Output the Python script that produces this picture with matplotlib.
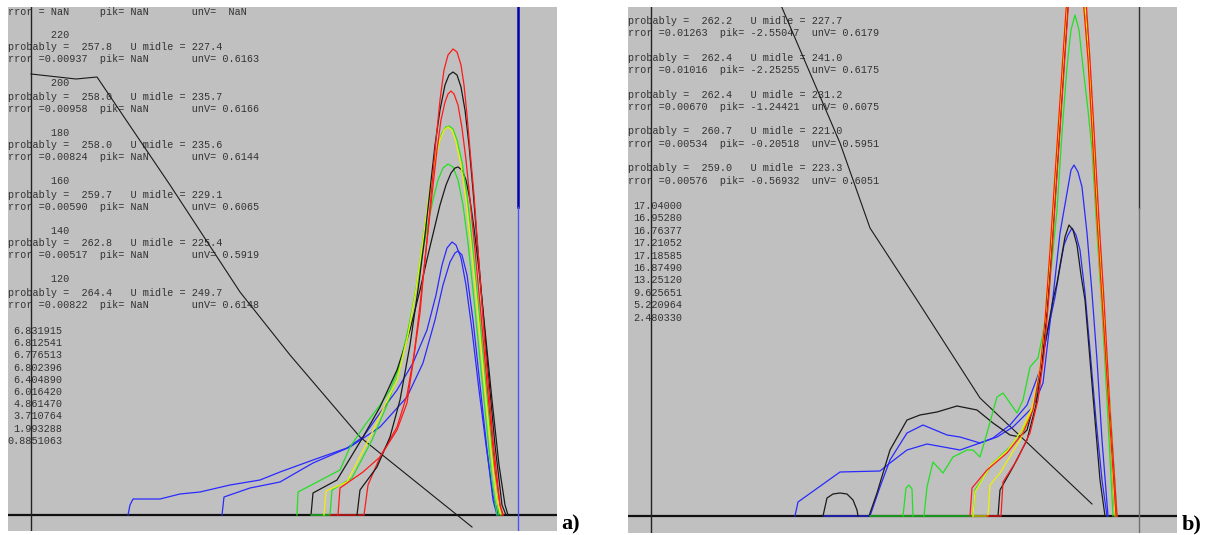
import matplotlib
matplotlib.use("Agg")
import matplotlib.pyplot as plt

# ---------------- panel a) data (x: channel from origin, y: counts) ----------------
a_headers = ["220", "200", "180", "160", "140", "120"]
a_prob = [257.8, 258.0, 258.0, 259.7, 262.8, 264.4]
a_umid = [227.4, 235.7, 235.6, 229.1, 225.4, 249.7]
a_err = ["0.00937", "0.00958", "0.00824", "0.00590", "0.00517", "0.00822"]
a_unv = ["0.6163", "0.6166", "0.6144", "0.6065", "0.5919", "0.6148"]
a_list = ["6.831915", "6.812541", "6.776513", "6.802396", "6.404890",
          "6.016420", "4.861470", "3.710764", "1.993288", "0.8851063"]

a_diag_x = [0, 45, 66, 139, 209, 259, 329, 441]
a_diag_y = [441, 436, 438, 330, 223, 160, 78, -12]

a_red1_x = [307, 309, 332, 349, 366, 376, 382, 389, 392, 397, 401, 405, 409, 413, 417, 422,
            426, 430, 433, 436, 439, 443, 447, 454, 462, 469, 472]
a_red1_y = [0, 27, 43, 58, 85, 112, 152, 202, 235, 285, 330, 375, 415, 445, 460, 466,
            463, 450, 430, 400, 365, 320, 265, 170, 75, 10, 0]
a_black1_x = [326, 329, 346, 359, 369, 379, 387, 394, 399, 404, 409, 414, 418, 422,
              426, 430, 434, 438, 442, 446, 451, 457, 464, 471, 475]
a_black1_y = [0, 25, 48, 78, 115, 170, 225, 280, 325, 370, 405, 430, 440, 443,
              440, 428, 405, 370, 325, 275, 215, 145, 70, 10, 0]
a_red2_x = [299, 333, 337, 349, 366, 376, 383, 389, 395, 401, 406, 410, 414, 417, 420,
            423, 427, 431, 435, 439, 444, 450, 457, 464, 469, 472]
a_red2_y = [0, 0, 30, 58, 88, 120, 160, 210, 265, 320, 365, 395, 413, 421, 424,
            421, 410, 387, 355, 315, 265, 200, 120, 45, 10, 0]
a_yellow_x = [293, 295, 316, 339, 354, 366, 377, 385, 392, 398, 404, 409, 413, 417,
              421, 425, 430, 435, 440, 446, 453, 460, 466, 470]
a_yellow_y = [0, 24, 33, 78, 110, 135, 180, 225, 275, 320, 355, 375, 385, 388,
              385, 373, 350, 315, 270, 210, 135, 65, 15, 0]
a_green2_x = [280, 299, 301, 321, 341, 356, 367, 378, 386, 393, 400, 406, 411, 415, 418,
              422, 426, 431, 436, 441, 447, 454, 461, 466, 468]
a_green2_y = [0, 0, 25, 37, 75, 110, 140, 187, 232, 283, 330, 365, 382, 388, 389,
              386, 375, 353, 320, 275, 215, 140, 65, 15, 0]
a_green1_x = [266, 267, 309, 319, 334, 349, 359, 369, 377, 384, 390, 396, 402, 407, 412,
              417, 422, 427, 432, 437, 442, 448, 455, 461, 466]
a_green1_y = [0, 23, 45, 68, 90, 110, 125, 150, 185, 220, 253, 287, 315, 335, 347,
              351, 348, 335, 310, 272, 225, 165, 95, 35, 0]
a_black2_x = [280, 282, 306, 332, 349, 366, 379, 389, 397, 403, 409, 415, 420, 424, 427,
              431, 435, 439, 443, 448, 454, 461, 468, 474, 477]
a_black2_y = [0, 22, 35, 78, 108, 145, 185, 225, 260, 285, 310, 330, 342, 347, 348,
              345, 335, 315, 287, 245, 185, 115, 50, 10, 0]
a_blue1_x = [97, 99, 102, 129, 149, 169, 199, 229, 249, 282, 316, 332, 349, 366, 382, 396,
             405, 411, 416, 421, 425, 430, 435, 441, 448, 455, 462, 467]
a_blue1_y = [0, 10, 16, 16, 21, 23, 30, 35, 43, 55, 67, 78, 102, 125, 152, 185,
             220, 250, 267, 273, 270, 257, 230, 185, 125, 70, 20, 0]
a_blue2_x = [191, 193, 219, 249, 282, 319, 349, 376, 392, 404, 412, 419, 424, 427,
             431, 436, 442, 449, 456, 462, 466]
a_blue2_y = [0, 18, 27, 33, 52, 68, 88, 118, 152, 195, 230, 253, 262, 264,
             260, 240, 195, 130, 65, 15, 0]

# ---------------- panel b) data ----------------
b_prob = [262.2, 262.4, 262.4, 260.7, 259.0]
b_umid = [227.7, 241.0, 231.2, 221.0, 223.3]
b_err = ["0.01263", "0.01016", "0.00670", "0.00534", "0.00576"]
b_pik = ["-2.55047", "-2.25255", "-1.24421", "-0.20518", "-0.56932"]
b_unv = ["0.6179", "0.6175", "0.6075", "0.5951", "0.6051"]
b_list = ["17.04000", "16.95280", "16.76377", "17.21052", "17.18585",
          "16.87490", "13.25120", "9.625651", "5.220964", "2.480330"]

b_diag_x = [129, 162, 189, 219, 266, 329, 441]
b_diag_y = [513, 436, 373, 288, 216, 118, 12]

b_red1_x = [319, 321, 336, 356, 372, 382, 389, 394, 399, 403, 407, 411, 415, 421,
            427, 433, 437, 441, 446, 451, 458, 465]
b_red1_y = [0, 28, 46, 63, 83, 106, 146, 196, 266, 326, 386, 446, 506, 566,
            566, 506, 456, 386, 296, 216, 106, 0]
b_green3_x = [219, 322, 324, 342, 359, 373, 383, 390, 395, 400, 404, 408, 412, 416,
              422, 428, 434, 438, 442, 447, 452, 459, 466]
b_green3_y = [0, 0, 26, 53, 69, 88, 111, 151, 201, 271, 331, 391, 451, 511,
              571, 571, 511, 461, 391, 301, 221, 111, 0]
b_yellow1_x = [322, 324, 340, 357, 371, 382, 389, 394, 399, 403, 407, 411, 415, 421,
               427, 433, 437, 441, 446, 451, 458, 464]
b_yellow1_y = [0, 24, 51, 66, 86, 111, 148, 198, 266, 326, 386, 446, 506, 566,
               566, 506, 454, 384, 294, 214, 104, 0]
b_yellow2_x = [322, 337, 339, 349, 369, 381, 389, 395, 400, 404, 408, 412, 416, 422,
               428, 434, 438, 442, 447, 452, 459, 465]
b_yellow2_y = [0, 0, 31, 43, 76, 106, 146, 206, 271, 331, 391, 451, 511, 571,
               571, 511, 458, 388, 298, 218, 108, 0]
b_black3_x = [347, 349, 362, 376, 385, 391, 396, 401, 405, 409, 413, 417, 423,
              429, 434, 438, 442, 447, 452, 458, 464]
b_black3_y = [0, 26, 49, 76, 111, 151, 206, 271, 331, 391, 451, 511, 571,
              571, 511, 456, 386, 296, 216, 106, 0]
b_red2_x = [336, 350, 352, 366, 379, 387, 393, 398, 402, 406, 410, 414, 418, 424,
            430, 435, 439, 443, 448, 453, 459, 466]
b_red2_y = [0, 0, 34, 56, 83, 116, 161, 221, 281, 341, 401, 461, 521, 576,
            576, 516, 456, 386, 296, 216, 106, 0]
b_green2_x = [273, 276, 282, 292, 302, 316, 322, 329, 336, 346, 352, 359, 366, 372, 379, 387,
              392, 397, 402, 406, 411, 416, 420, 424, 428, 432, 437, 441, 446, 451, 456, 462]
b_green2_y = [0, 29, 54, 43, 59, 66, 66, 59, 83, 119, 123, 113, 103, 116, 149, 158,
              183, 216, 266, 306, 383, 449, 486, 501, 486, 449, 406, 366, 283, 206, 116, 0]
b_gspike_x = [252, 255, 258, 261, 262]
b_gspike_y = [0, 28, 31, 27, 0]
b_bump_x = [172, 176, 182, 189, 196, 202, 206, 207]
b_bump_y = [0, 18, 22, 23, 22, 16, 6, 0]
b_black1_x = [218, 226, 239, 256, 269, 286, 306, 326, 342, 359, 369, 376, 384, 390,
              396, 402, 406, 410, 414, 418, 422, 426, 430, 434, 439, 444, 449, 454]
b_black1_y = [0, 23, 66, 96, 101, 104, 110, 106, 93, 81, 79, 86, 116, 151,
              183, 216, 233, 256, 279, 291, 286, 271, 241, 216, 156, 96, 36, 0]
b_blueA_x = [144, 147, 189, 229, 239, 256, 276, 309, 329, 346, 362, 382, 392, 402,
             409, 416, 420, 423, 427, 431, 436, 441, 446, 451, 457]
b_blueA_y = [0, 14, 44, 45, 53, 66, 72, 66, 73, 79, 89, 109, 133, 219,
             283, 323, 346, 351, 344, 329, 283, 223, 156, 76, 0]
b_blueB_x = [172, 219, 229, 239, 256, 272, 296, 309, 329, 342, 359, 376, 389, 397,
             404, 409, 413, 417, 421, 425, 429, 434, 439, 445, 451, 456]
b_blueB_y = [0, 0, 29, 56, 83, 91, 81, 79, 73, 78, 91, 111, 146, 186,
             219, 249, 271, 281, 288, 281, 266, 223, 166, 96, 36, 0]

BG = "#c0c0c0"
RED, GREEN, YELLOW, BLUE, BLACK = "#ff1a1a", "#22e022", "#f0f000", "#2a2aff", "#1a1a1a"
TXT = "#333333"
MONO = dict(family="Liberation Mono", size=7.3, color=TXT, va="center", zorder=2)

fig = plt.figure(figsize=(12.05, 5.35), dpi=100)
fig.patch.set_facecolor("white")


def make_panel(rect, xlim, ylim):
    ax = fig.add_axes(rect)
    ax.set_facecolor(BG)
    ax.set_xlim(*xlim)
    ax.set_ylim(*ylim)
    ax.set_xticks([])
    ax.set_yticks([])
    for s in ax.spines.values():
        s.set_visible(False)
    return ax


W, H = 1205.0, 535.0
ax1 = make_panel([8 / W, 4 / H, 549 / W, 524 / H], (-23, 526), (-16, 508))
ax2 = make_panel([628 / W, 2 / H, 549 / W, 526 / H], (-23, 526), (-17, 509))

# ---- panel a) text ----
ax1.text(-23, 503, "rror = NaN     pik= NaN       unV=  NaN", **MONO)
for k in range(len(a_headers)):
    y0 = 480.5 - 49 * k
    ax1.text(-23, y0, "       " + a_headers[k], **MONO)
    ax1.text(-23, y0 - 13, "probably = %6.1f   U midle = %5.1f" % (a_prob[k], a_umid[k]), **MONO)
    ax1.text(-23, y0 - 25, "rror =%s  pik= NaN       unV= %s" % (a_err[k], a_unv[k]), **MONO)
for i, s in enumerate(a_list):
    ax1.text(31.5, 184 - 12.2 * i, s, ha="right", **MONO)

# ---- panel b) text ----
for k in range(len(b_prob)):
    y0 = 495 - 36.8 * k
    ax2.text(-23, y0, "probably = %6.1f   U midle = %5.1f" % (b_prob[k], b_umid[k]), **MONO)
    ax2.text(-23, y0 - 12.5, "rror =%s  pik= %s  unV= %s" % (b_err[k], b_pik[k], b_unv[k]), **MONO)
for i, s in enumerate(b_list):
    ax2.text(-18, 310 - 12.4 * i, s, ha="left", **MONO)

# ---- axes lines ----
for ax in (ax1, ax2):
    ax.axhline(0, color="#111111", lw=1.6, zorder=3)
    ax.axvline(0, color="#222222", lw=1.0, zorder=3)

ax1.plot([487, 487], [308, 520], color="#0000b0", lw=1.8, zorder=3)
ax1.plot([487, 487], [-20, 308], color="#5050ff", lw=1.0, zorder=3)
ax2.plot([488, 488], [308, 520], color="#303030", lw=1.0, zorder=3)
ax2.plot([488, 488], [-20, 308], color="#707070", lw=1.0, zorder=3)

LW = 0.9
ax1.plot(a_diag_x, a_diag_y, color=BLACK, lw=0.8, zorder=4)
for (x, y, c) in [(a_blue1_x, a_blue1_y, BLUE), (a_blue2_x, a_blue2_y, BLUE),
                  (a_green1_x, a_green1_y, GREEN), (a_black2_x, a_black2_y, BLACK),
                  (a_green2_x, a_green2_y, GREEN), (a_yellow_x, a_yellow_y, YELLOW),
                  (a_red2_x, a_red2_y, RED), (a_black1_x, a_black1_y, BLACK),
                  (a_red1_x, a_red1_y, RED)]:
    ax1.plot(x, y, color=c, lw=LW, zorder=5)

ax2.plot(b_diag_x, b_diag_y, color=BLACK, lw=0.8, zorder=4)
for (x, y, c) in [(b_blueA_x, b_blueA_y, BLUE), (b_blueB_x, b_blueB_y, BLUE),
                  (b_bump_x, b_bump_y, BLACK), (b_black1_x, b_black1_y, BLACK),
                  (b_gspike_x, b_gspike_y, GREEN), (b_green2_x, b_green2_y, GREEN),
                  (b_green3_x, b_green3_y, GREEN), (b_black3_x, b_black3_y, BLACK),
                  (b_yellow2_x, b_yellow2_y, YELLOW), (b_red2_x, b_red2_y, RED),
                  (b_yellow1_x, b_yellow1_y, YELLOW), (b_red1_x, b_red1_y, RED)]:
    ax2.plot(x, y, color=c, lw=LW, zorder=5)

# panel labels
fig.text(561 / W, 1 - 524 / H, "a)", family="Liberation Serif", weight="bold",
         fontsize=16, va="center", ha="left")
fig.text(1182 / W, 1 - 524 / H, "b)", family="Liberation Serif", weight="bold",
         fontsize=16, va="center", ha="left")

fig.savefig("out.png", dpi=100, facecolor="white")
